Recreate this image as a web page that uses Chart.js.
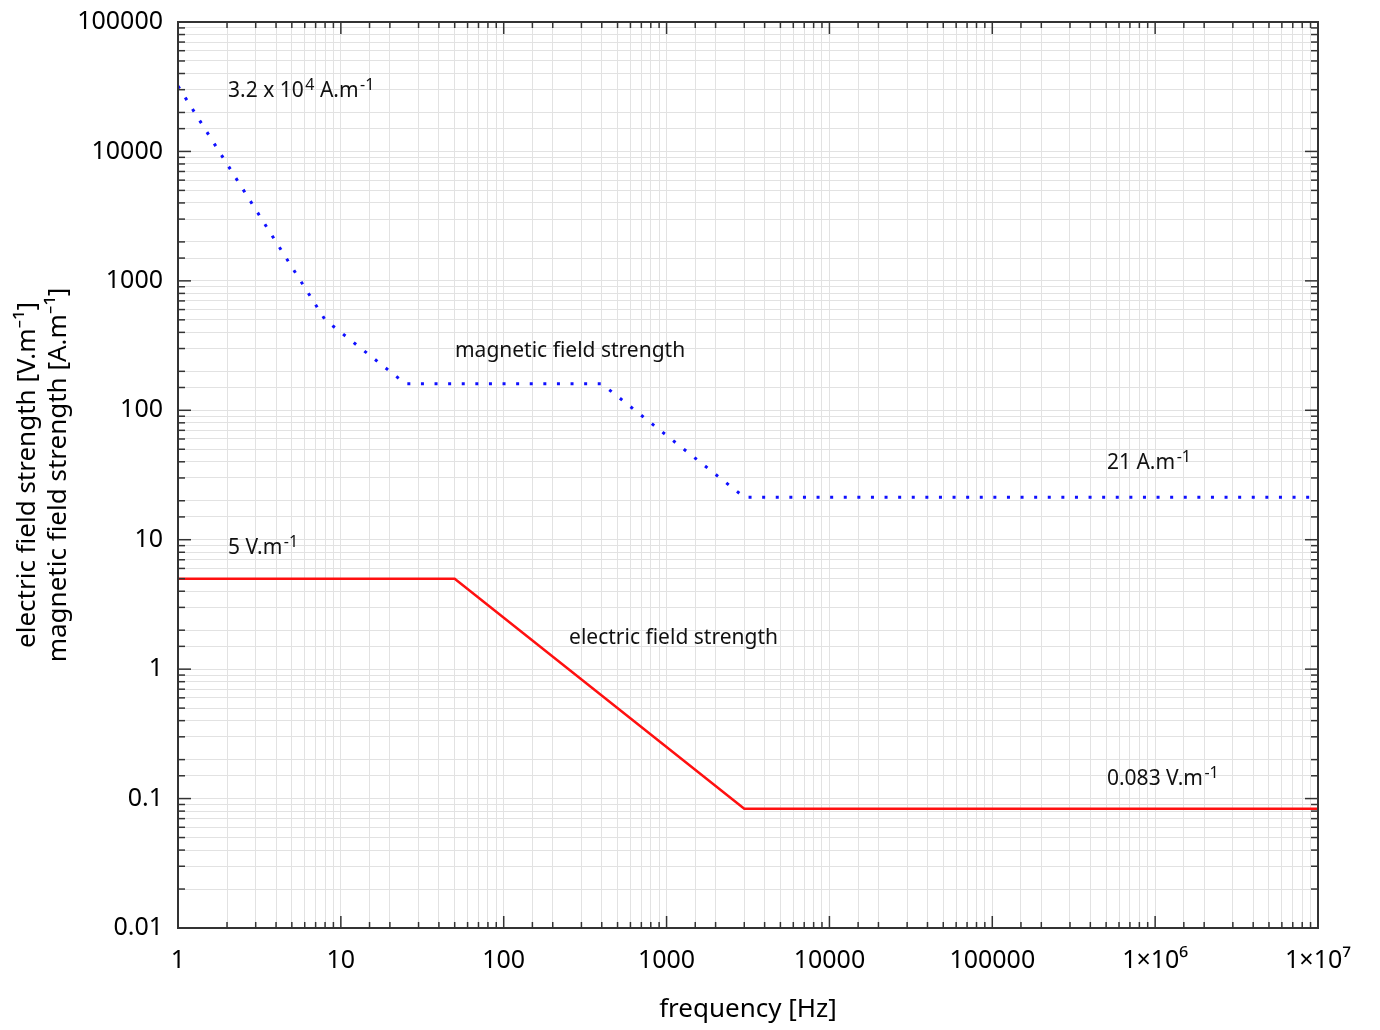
<!DOCTYPE html>
<html><head><meta charset="utf-8">
<script src="https://cdn.jsdelivr.net/npm/chart.js@4.4.0/dist/chart.umd.min.js"></script>
<style>html,body{margin:0;padding:0;background:#fff}#wrap{width:1380px;height:1030px;position:relative}canvas{display:block}</style>
</head><body><div id="wrap"><canvas id="c" width="1380" height="1030"></canvas></div>
<script>
// ---- data ----
const magFreq = [1, 8, 25, 400, 3000, 1e7];
const magValues = [32000, 500, 160, 160, 21.3, 21.3];
const eleFreq = [1, 50, 3000, 1e7];
const eleValues = [5, 5, 0.0833, 0.0833];
const xTickLabels = ['1', '10', '100', '1000', '10000', '100000', '1×10⁶', '1×10⁷']; // exponents 0..7
const yTickLabels = ['0.01', '0.1', '1', '10', '100', '1000', '10000', '100000']; // exponents -2..5
const xTitle = 'frequency [Hz]';
const yTitle = ['electric field strength [V.m⁻¹]', 'magnetic field strength [A.m⁻¹]'];
const annotations = [
  {x: 2.03, y: 30100, parts: [['3.2 x 10'], ['4', 1], [' A.m'], ['-1', 1]]},
  {x: 50.2, y: 297, parts: [['magnetic field strength']]},
  {x: 5.06e5, y: 40, parts: [['21 A.m'], ['-1', 1]]},
  {x: 2.03, y: 8.9, parts: [['5 V.m'], ['-1', 1]]},
  {x: 252, y: 1.79, parts: [['electric field strength']]},
  {x: 5.06e5, y: 0.146, parts: [['0.083 V.m'], ['-1', 1]]}
];

const FONT = 'Noto Sans';
Chart.defaults.font.family = FONT;
const expOf = v => Math.round(Math.log10(v));
const isPow10 = v => Math.abs(Math.log10(v) - Math.round(Math.log10(v))) < 1e-6;

const framePlugin = {
  id: 'frame',
  afterDraw(chart) {
    const {ctx, chartArea: a, scales: {x, y}} = chart;
    ctx.save();
    ctx.strokeStyle = '#333';
    ctx.lineWidth = 1.5;
    const seg = (x1, y1, x2, y2) => { ctx.beginPath(); ctx.moveTo(x1, y1); ctx.lineTo(x2, y2); ctx.stroke(); };
    x.ticks.forEach(t => {
      const px = x.getPixelForValue(t.value);
      const L = isPow10(t.value) ? 12 : 6;
      seg(px, a.bottom, px, a.bottom - L);
      seg(px, a.top, px, a.top + L);
    });
    y.ticks.forEach(t => {
      const py = y.getPixelForValue(t.value);
      const L = isPow10(t.value) ? 13 : 7;
      seg(a.left, py, a.left + L, py);
      seg(a.right, py, a.right - L, py);
    });
    ctx.lineWidth = 2;
    ctx.strokeRect(a.left, a.top, a.right - a.left, a.bottom - a.top);

    // annotations
    ctx.fillStyle = '#111';
    ctx.textBaseline = 'alphabetic';
    ctx.textAlign = 'left';
    annotations.forEach(an => {
      let px = x.getPixelForValue(an.x);
      const base = y.getPixelForValue(an.y) + 7.5;
      an.parts.forEach(([t, sup]) => {
        ctx.font = sup ? `16px "${FONT}"` : `21px "${FONT}"`;
        if (sup) px += 0.5;
        ctx.fillText(t, px, sup ? base - 7 : base);
        px += ctx.measureText(t).width + (sup ? 0 : 1);
      });
    });
    ctx.restore();
  }
};

new Chart(document.getElementById('c'), {
  type: 'line',
  data: {
    datasets: [
      {
        label: 'magnetic field strength',
        data: magFreq.map((f, i) => ({x: f, y: magValues[i]})),
        borderColor: '#1010ff',
        borderWidth: 3,
        borderDash: [3, 10.6],
        pointRadius: 0,
        tension: 0,
        fill: false
      },
      {
        label: 'electric field strength',
        data: eleFreq.map((f, i) => ({x: f, y: eleValues[i]})),
        borderColor: '#ff1010',
        borderWidth: 2.5,
        pointRadius: 0,
        tension: 0,
        fill: false
      }
    ]
  },
  options: {
    responsive: false,
    animation: false,
    devicePixelRatio: 1,
    layout: {padding: {left: 0, right: 62, top: 22, bottom: 0}},
    plugins: {legend: {display: false}, tooltip: {enabled: false}},
    scales: {
      x: {
        type: 'logarithmic',
        min: 1, max: 1e7,
        grid: {color: '#e2e2e2', lineWidth: 1, drawTicks: false},
        border: {display: false},
        ticks: {
          autoSkip: false, maxRotation: 0, padding: 18, color: '#000',
          font: {size: 25, family: FONT},
          callback: v => isPow10(v) ? xTickLabels[expOf(v)] : ''
        },
        title: {display: true, text: xTitle, color: '#000', font: {size: 26, family: FONT, lineHeight: 1.2}, padding: {top: 0, bottom: 5}},
        afterFit: s => { s.height = 102; s.paddingLeft = 0; s.paddingRight = 0; }
      },
      y: {
        type: 'logarithmic',
        min: 0.01, max: 1e5,
        grid: {color: '#e2e2e2', lineWidth: 1, drawTicks: false},
        border: {display: false},
        ticks: {
          autoSkip: false, padding: 15, color: '#000',
          font: {size: 25, family: FONT},
          callback: v => isPow10(v) ? yTickLabels[expOf(v) + 2] : ''
        },
        title: {display: true, text: yTitle, color: '#000', font: {size: 26, family: FONT, lineHeight: 1.2}, padding: {top: 12, bottom: 0}},
        afterFit: s => { s.width = 178; s.paddingTop = 0; s.paddingBottom = 0; }
      }
    }
  },
  plugins: [framePlugin]
});
</script>
</body></html>
